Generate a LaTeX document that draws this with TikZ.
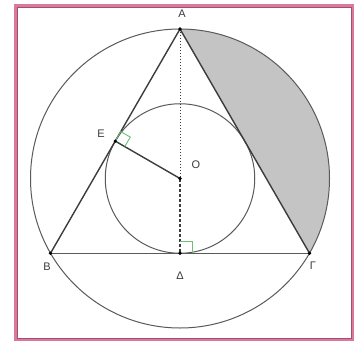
\documentclass[tikz,border=0pt]{standalone}
\usepackage{fontspec}
\setmainfont{Liberation Sans}
\definecolor{framepink}{RGB}{218,120,158}
\definecolor{framedark}{RGB}{160,80,110}
\definecolor{linegray}{RGB}{60,60,60}
\definecolor{circgray}{RGB}{90,90,90}
\definecolor{segfill}{RGB}{196,196,196}
\definecolor{markgreen}{RGB}{110,190,120}
\definecolor{labelgray}{RGB}{60,60,60}
\tikzset{
  dotpt/.style={circle,fill=black,inner sep=0pt,minimum size=3.6pt},
  lbl/.style={text=labelgray,font=\fontsize{11pt}{13pt}\selectfont,inner sep=0pt},
  side/.style={draw=linegray,line width=1.4pt},
  circ/.style={draw=circgray,line width=1pt},
  rmark/.style={draw=markgreen,line width=0.9pt}
}
\begin{document}
\begin{tikzpicture}[x=1pt,y=-1pt]
\useasboundingbox (0,0) rectangle (361,342);
\fill[white] (0,0) rectangle (361,342);
% frame
\draw[framepink,line width=2.6pt] (15.5,5.5) rectangle (352.5,340);
\draw[framedark,line width=0.5pt] (17,7) rectangle (351,338.5);
% points
\coordinate (O) at (180,178.5);
\coordinate (A) at (180,29);
\coordinate (B) at (50.5,253.25);
\coordinate (G) at (309.5,253.25);
\coordinate (D) at (180,253.25);
\coordinate (E) at (115.25,141.1);
% shaded segment
\fill[segfill] (A) arc[start angle=90,end angle=-30,radius=149.5pt] -- cycle;
% circles
\draw[circ] (O) circle[radius=149.5pt];
\draw[circ] (O) circle[radius=74.75pt];
% triangle
\draw[circ] (B) -- (G);
\draw[side] (B) -- (A) -- (G);
% altitude
\draw[linegray,line width=1pt,dotted] (A) -- (O);
\draw[linegray,line width=1.3pt,densely dashed] (O) -- (D);
\draw[linegray,line width=1.4pt] (E) -- (O);
% right angle marks
\draw[rmark] (E) -- ++(5.5,-9.53) -- ++(9.53,5.5) -- ++(-5.5,9.53);
\draw[rmark] (D) ++(0,-12) -- ++(12,0) -- ++(0,12);
% dots
\node[dotpt] (pA) at (A) {};
\node[dotpt] (pB) at (B) {};
\node[dotpt] (pG) at (G) {};
\node[dotpt] (pD) at (D) {};
\node[dotpt] (pO) at (O) {};
\node[dotpt] (pE) at (E) {};
% labels
\node[lbl] (lA) at (182,14) {A};
\node[lbl] (lE) at (101,134) {E};
\node[lbl] (lO) at (196,165) {O};
\node[lbl] (lB) at (47,267) {B};
\node[lbl] (lD) at (180,276) {Δ};
\node[lbl] (lG) at (313,266) {Γ};
\end{tikzpicture}
\end{document}
